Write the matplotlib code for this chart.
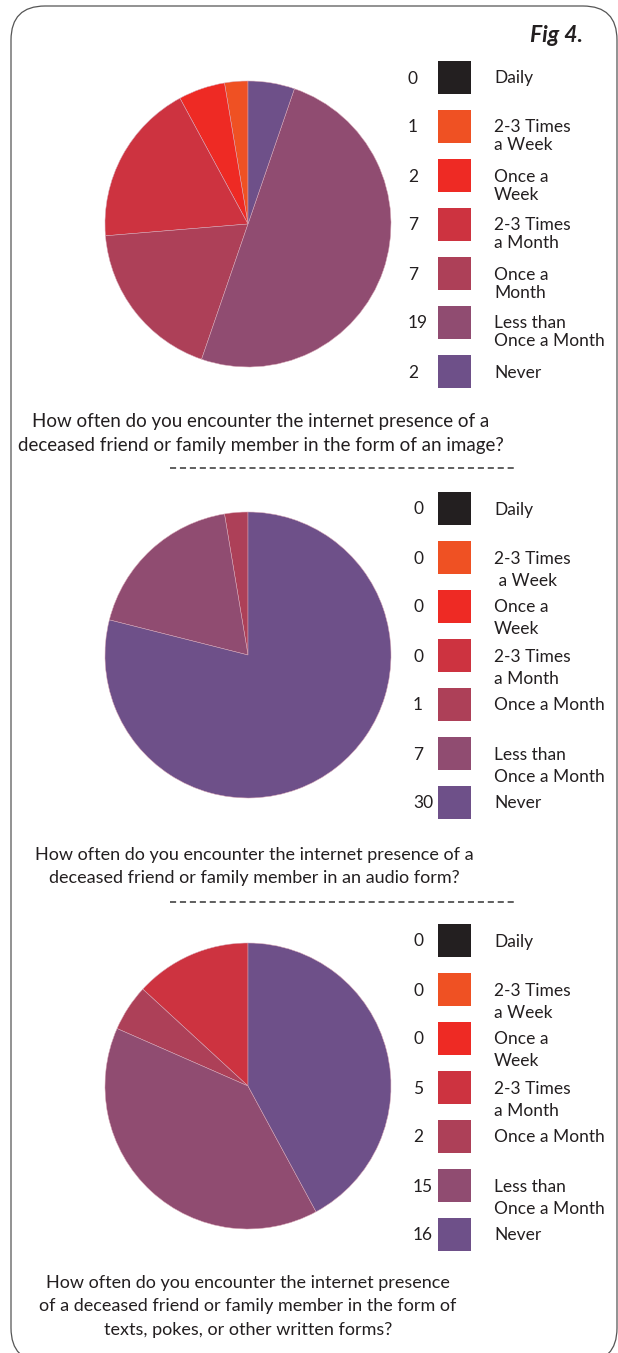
import matplotlib
matplotlib.use("Agg")
import matplotlib.pyplot as plt
from matplotlib.patches import FancyBboxPatch, Rectangle

plt.rcParams['font.family'] = ['Lato', 'DejaVu Sans']

W, H = 618, 1353

# categories / colours (same for all three pies)
colors = ['#231f20', '#ef5123', '#ee2a24', '#cd3340', '#ad4058', '#904c71', '#6e5089']

# answer counts per category
image_counts = [0, 1, 2, 7, 7, 19, 2]
audio_counts = [0, 0, 0, 0, 1, 7, 30]
text_counts = [0, 0, 0, 5, 2, 15, 16]

# legend labels, as laid out in each panel
image_labels = ['Daily', '2-3 Times\na Week', 'Once a\nWeek', '2-3 Times\na Month',
                'Once a\nMonth', 'Less than\nOnce a Month', 'Never']
audio_labels = ['Daily', '2-3 Times\n a Week', 'Once a\nWeek', '2-3 Times\na Month',
                'Once a Month', 'Less than\nOnce a Month', 'Never']
text_labels = ['Daily', '2-3 Times\na Week', 'Once a\nWeek', '2-3 Times\na Month',
               'Once a Month', 'Less than\nOnce a Month', 'Never']

questions = [
    'How often do you encounter the internet presence of a\ndeceased friend or family member in the form of an image?',
    'How often do you encounter the internet presence of a\ndeceased friend or family member in an audio form?',
    'How often do you encounter the internet presence\nof a deceased friend or family member in the form of\ntexts, pokes, or other written forms?',
]

fig = plt.figure(figsize=(W / 100, H / 100), dpi=100)
ax = fig.add_axes([0, 0, 1, 1])

txtc = '#231f20'
FS = 12.5


def Y(p):
    # pixel row -> data y (y grows upwards)
    return H - p


def panel(counts, labels, pie_cy, sq_top, line_gap, num_x, q_text, q_x, q_y, q_fs):
    ax.pie(counts, colors=colors, startangle=90, counterclock=True,
           center=(248, Y(pie_cy)), radius=143,
           wedgeprops=dict(edgecolor='#d9a7b6', linewidth=0.35))
    for i, (n, lab) in enumerate(zip(counts, labels)):
        top = sq_top + 49 * i
        cy = top + 16.5
        ax.add_patch(Rectangle((438, Y(top + 33)), 33, 33, color=colors[i], lw=0))
        ax.text(num_x, Y(cy + 1), str(n), fontsize=FS, color=txtc, ha='left', va='center')
        for j, ln in enumerate(lab.split('\n')):
            ax.text(494, Y(cy + 1 + j * line_gap), ln, fontsize=FS, color=txtc,
                    ha='left', va='center')
    for j, ln in enumerate(q_text.split('\n')):
        ax.text(q_x, Y(q_y + j * 23.5), ln, fontsize=q_fs, color=txtc,
                ha='center', va='center')


panel(image_counts, image_labels, 224, 61, 18, 408, questions[0], 261, 422, 13.5)
panel(audio_counts, audio_labels, 655, 492, 22, 413, questions[1], 254, 855, 13.0)
panel(text_counts, text_labels, 1086, 924, 22, 413, questions[2], 248, 1283, 13.0)

# dashed separators
for yy in (468, 902):
    ax.plot([170, 517], [Y(yy), Y(yy)], color='#333333', lw=1.1,
            dashes=(4, 2.5), solid_capstyle='butt')

ax.text(583, Y(35), 'Fig 4.', fontsize=16.5, fontweight='bold', fontstyle='italic',
        color=txtc, ha='right', va='center')

# rounded frame
frame = FancyBboxPatch((11, Y(1362)), 606, 1356,
                       boxstyle='round,pad=0,rounding_size=34',
                       fill=False, edgecolor='#555555', lw=0.9, clip_on=False)
ax.add_patch(frame)

ax.set_xlim(0, W)
ax.set_ylim(0, H)
ax.set_aspect('auto')
ax.axis('off')

fig.savefig('out.png', dpi=100, facecolor='white')
